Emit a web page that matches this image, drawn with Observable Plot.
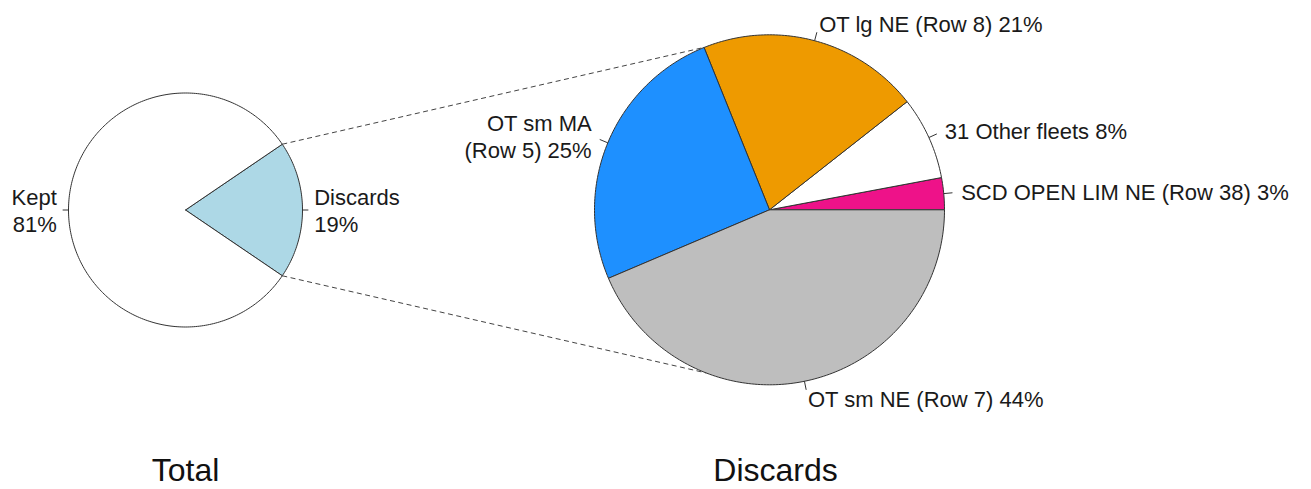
<!DOCTYPE html>
<html>
<head>
<meta charset="utf-8">
<script src="https://cdn.jsdelivr.net/npm/d3@7"></script>
<script src="https://cdn.jsdelivr.net/npm/@observablehq/plot@0.6"></script>
<style>
  html, body { margin: 0; padding: 0; background: #fff; }
  svg { display: block; }
</style>
</head>
<body>
<div id="chart"></div>
<script>
// ---- data ----
const totalCategories = ["Discards", "Kept"];
const totalValues = [19, 81];
const totalColors = ["#ADD8E6", "#FFFFFF"];

const discardCategories = ["SCD OPEN LIM NE (Row 38)", "31 Other fleets", "OT lg NE (Row 8)", "OT sm MA\n(Row 5)", "OT sm NE (Row 7)"];
const discardValues = [2.95, 7.65, 20.5, 25.3, 43.6];
const discardColors = ["#EE1289", "#FFFFFF", "#EE9A00", "#1E90FF", "#BEBEBE"];

const titles = ["Total", "Discards"];

// ---- layout (pixel space used as data space) ----
const W = 1311, H = 489;
const pies = [
  {cx: 185, cy: 209.5, r: 117, cats: totalCategories, vals: totalValues, cols: totalColors,
   start: -totalValues[0] / d3.sum(totalValues) * 180, sep: "\n", title: titles[0], titleX: 185},
  {cx: 769, cy: 209.3, r: 175, cats: discardCategories, vals: discardValues, cols: discardColors,
   start: 0, sep: " ", title: titles[1], titleX: 775}
];
const rad = d => d * Math.PI / 180;

function layout(p) {
  const tot = d3.sum(p.vals);
  let a = p.start;
  return p.vals.map((v, i) => {
    const s = a; a += v / tot * 360;
    return {i, start: s, end: a, mid: (s + a) / 2, value: v,
      label: p.cats[i] + p.sep + Math.round(v / tot * 100) + "%", color: p.cols[i]};
  });
}
function polygon(p, s, e) {
  const pts = [[p.cx, p.cy]];
  const n = Math.max(2, Math.ceil(e - s));
  for (let k = 0; k <= n; k++) {
    const ang = rad(s + (e - s) * k / n);
    pts.push([p.cx + p.r * Math.cos(ang), p.cy - p.r * Math.sin(ang)]);
  }
  pts.push([p.cx, p.cy]);
  return pts;
}
const polar = (p, ang, f) => [p.cx + f * p.r * Math.cos(rad(ang)), p.cy - f * p.r * Math.sin(rad(ang))];

const marks = [];
const labelRows = [], tickRows = [];
pies.forEach(p => {
  layout(p).forEach(sl => {
    marks.push(Plot.line(polygon(p, sl.start, sl.end), {
      x: d => d[0], y: d => d[1], fill: sl.color, stroke: "#333", strokeWidth: 1, curve: "linear"
    }));
    const t0 = polar(p, sl.mid, 1), t1 = polar(p, sl.mid, 1.05), lp = polar(p, sl.mid, 1.1);
    tickRows.push({x1: t0[0], y1: t0[1], x2: t1[0], y2: t1[1]});
    labelRows.push({x: lp[0], y: lp[1], text: sl.label, right: Math.cos(rad(sl.mid)) >= 0});
  });
});

// dashed connectors from the Discards slice edges to the discards pie
const L = pies[0], R = pies[1];
const lEdges = layout(L)[0];
const connectorTargets = [111.8, 248.8];
const connectors = [
  {a: polar(L, lEdges.end, 1), b: polar(R, connectorTargets[0], 1)},
  {a: polar(L, lEdges.start, 1), b: polar(R, connectorTargets[1], 1)}
];

const font = "'Liberation Sans', Arial, Helvetica, sans-serif";
marks.push(
  Plot.link(connectors, {x1: d => d.a[0], y1: d => d.a[1], x2: d => d.b[0], y2: d => d.b[1],
    stroke: "#444", strokeWidth: 1, strokeDasharray: "5,3.5"}),
  Plot.link(tickRows, {x1: "x1", y1: "y1", x2: "x2", y2: "y2", stroke: "#333", strokeWidth: 1}),
  Plot.text(labelRows.filter(d => d.right), {x: "x", y: "y", text: "text", textAnchor: "start",
    fontSize: 22, fill: "#1a1a1a", lineHeight: 1.2}),
  Plot.text(labelRows.filter(d => !d.right), {x: "x", y: "y", text: "text", textAnchor: "end",
    fontSize: 22, fill: "#1a1a1a", lineHeight: 1.2}),
  Plot.text(pies, {x: "titleX", y: () => 470, text: "title", fontSize: 32, fill: "#111"})
);

const chart = Plot.plot({
  width: W, height: H,
  margin: 0,
  style: {fontFamily: font, background: "#fff"},
  x: {domain: [0, W], range: [0, W], axis: null},
  y: {domain: [0, H], range: [0, H], axis: null},
  marks
});
document.getElementById("chart").append(chart);
</script>
</body>
</html>
